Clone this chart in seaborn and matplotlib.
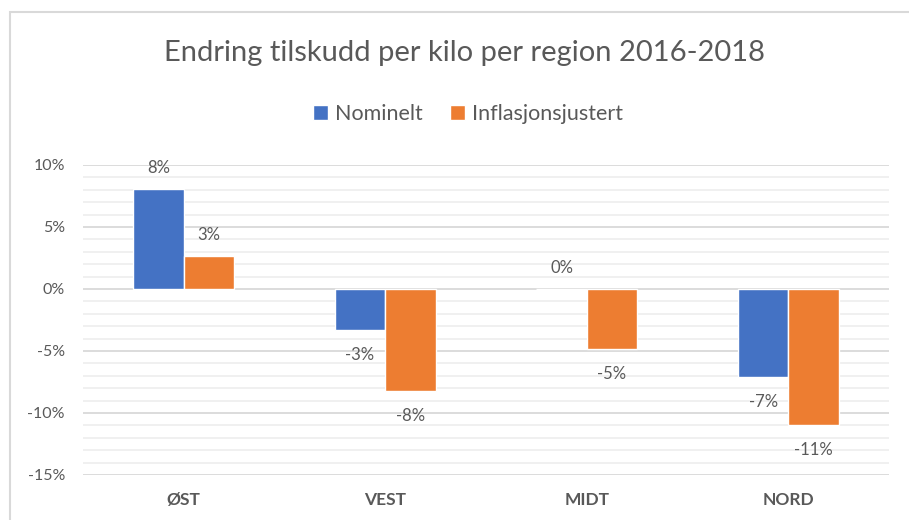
import pandas as pd
import seaborn as sns
import matplotlib.pyplot as plt
from matplotlib.patches import Rectangle, Patch
from matplotlib.ticker import MultipleLocator, FuncFormatter

regions = ["ØST", "VEST", "MIDT", "NORD"]
nominelt = [8.1, -3.3, 0.0, -7.1]
inflasjonsjustert = [2.7, -8.2, -4.8, -11.0]
series = ["Nominelt", "Inflasjonsjustert"]
colors = ["#4472C4", "#ED7D31"]

df = pd.DataFrame({
    "Region": regions * 2,
    "Serie": [series[0]] * 4 + [series[1]] * 4,
    "Endring": nominelt + inflasjonsjustert,
})

sns.set_theme(style="white")
plt.rcParams['font.family'] = ['Lato', 'DejaVu Sans']
txt = "#595959"

fig = plt.figure(figsize=(9.09, 5.20), dpi=100)
ax = fig.add_axes([83 / 909, 1 - 475 / 520, (889 - 83) / 909, (475 - 165) / 520])

sns.barplot(data=df, x="Region", y="Endring", hue="Serie", palette=colors,
            width=0.5, saturation=1, ax=ax, legend=False, zorder=3)

ax.set_ylim(-15, 10)
ax.yaxis.set_major_locator(MultipleLocator(5))
ax.yaxis.set_minor_locator(MultipleLocator(1))
ax.yaxis.set_major_formatter(FuncFormatter(lambda v, p: f"{v:.0f}%"))
ax.grid(axis="y", which="major", color="#D9D9D9", lw=1.3, zorder=0)
ax.grid(axis="y", which="minor", color="#EFEFEF", lw=1.3, zorder=0)
for s in ax.spines.values():
    s.set_visible(False)
ax.tick_params(axis="y", which="both", length=0, labelsize=11.5, labelcolor=txt, pad=13)
ax.tick_params(axis="x", length=0, labelsize=12.5, labelcolor=txt, pad=12)
for lab in ax.get_xticklabels():
    lab.set_fontweight("bold")
ax.set_xlabel("")
ax.set_ylabel("")

# labels above positive bars, below negative ones
for cont in ax.containers:
    for bar in cont:
        h = bar.get_height()
        xc = bar.get_x() + bar.get_width() / 2
        off = 15 if h >= 0 else -18
        ax.annotate(f"{h:.0f}%", (xc, h), xytext=(0, off), textcoords="offset points",
                    ha="center", va="center", fontsize=12, color=txt)

fig.text(464 / 909, 1 - 53 / 520, "Endring tilskudd per kilo per region 2016-2018",
         ha="center", va="center", fontsize=21, color=txt)
handles = [Patch(facecolor=c, label=s) for c, s in zip(colors, series)]
fig.legend(handles=handles, loc="center", bbox_to_anchor=(468 / 909, 1 - 114 / 520), ncol=2,
           frameon=False, fontsize=15.5, labelcolor=txt, handlelength=0.7, handleheight=0.7,
           handletextpad=0.3, columnspacing=1.3)

fig.add_artist(Rectangle((10 / 909, -0.1), 1.0, 1 - 12 / 520 + 0.1, transform=fig.transFigure,
                         fill=False, edgecolor="#D9D9D9", lw=1.5))

plt.savefig("out.png", dpi=100)
